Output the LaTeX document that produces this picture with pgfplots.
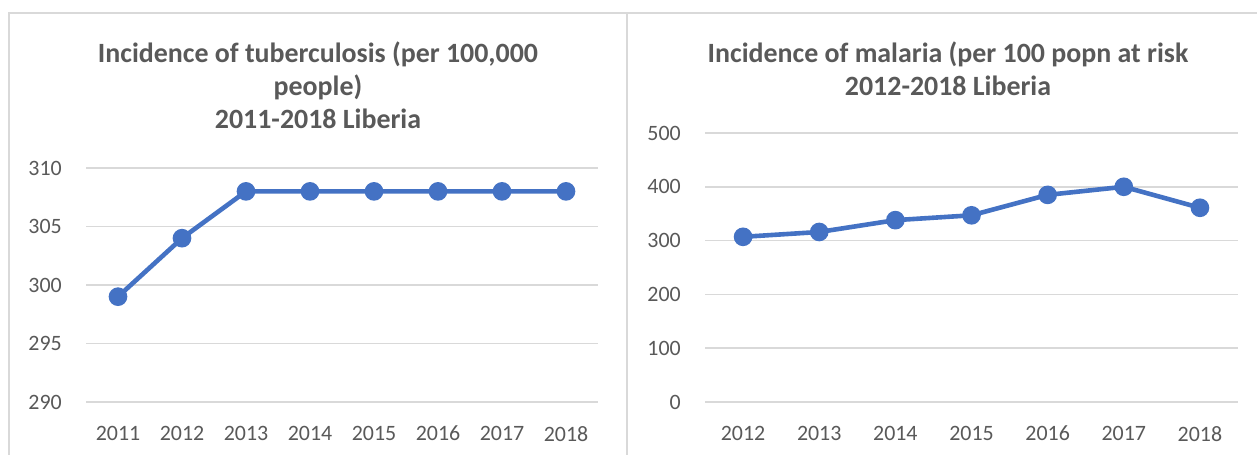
\documentclass[border=0pt]{standalone}
\usepackage{fontspec}
\setmainfont{Carlito}
\usepackage{pgfplots}
\pgfplotsset{compat=1.18}
\definecolor{lineblue}{HTML}{4472C4}
\definecolor{txtgray}{HTML}{595959}
\definecolor{gridgray}{HTML}{D9D9D9}
\pgfplotsset{
  mystyle/.style={
    scale only axis,
    anchor=south west,
    axis line style={draw=none},
    major tick length=0pt,
    ymajorgrids,
    grid style={gridgray, line width=1.5bp},
    tick label style={font=\fontsize{22}{26}\selectfont, text=txtgray},
    /pgf/number format/assume math mode=true,
    /pgf/number format/1000 sep={},
    yticklabel style={anchor=east, inner sep=0pt, xshift=-24bp},
    xticklabel style={anchor=north, inner sep=0pt, yshift=-24bp},
    clip=false,
  },
  myline/.style={lineblue, line width=4.6bp, mark=*, mark size=7bp,
    mark options={fill=lineblue, draw=none}},
}
\begin{document}
\begin{tikzpicture}[x=1bp,y=1bp]
\useasboundingbox (0,0) rectangle (1257,455);
\fill[white] (0,0) rectangle (1257,455);
\draw[gridgray, line width=1.5bp] (9,-5) -- (9,442) -- (627,442) -- (627,-5);
\draw[gridgray, line width=1.5bp] (627,442) -- (1265,442);

\node[align=center, text=txtgray, font=\fontsize{28}{33}\selectfont\bfseries] at (318,370)
  {Incidence of tuberculosis (per 100,000\\people)\\2011-2018 Liberia};
\node[align=center, text=txtgray, font=\fontsize{28}{33}\selectfont\bfseries] at (948,386.5)
  {Incidence of malaria (per 100 popn at risk\\2012-2018 Liberia};

\begin{axis}[mystyle, at={(86bp,53bp)}, width=512bp, height=234bp,
  xmin=-0.5, xmax=7.5, ymin=290, ymax=310,
  ytick={290,295,300,305,310},
  xtick={0,1,2,3,4,5,6,7},
  xticklabels={2011,2012,2013,2014,2015,2016,2017,2018}]
\addplot[myline] coordinates {(0,299)(1,304)(2,308)(3,308)(4,308)(5,308)(6,308)(7,308)};
\end{axis}

\begin{axis}[mystyle, at={(705bp,53bp)}, width=533bp, height=269bp,
  xmin=-0.5, xmax=6.5, ymin=0, ymax=500,
  ytick={0,100,200,300,400,500},
  xtick={0,1,2,3,4,5,6},
  xticklabels={2012,2013,2014,2015,2016,2017,2018}]
\addplot[myline] coordinates {(0,307)(1,316)(2,338)(3,347)(4,385)(5,400)(6,361)};
\end{axis}
\end{tikzpicture}
\end{document}
